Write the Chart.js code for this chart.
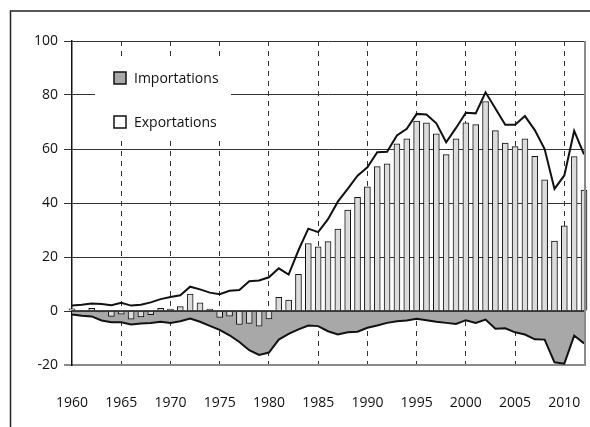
<!DOCTYPE html>
<html>
<head>
<meta charset="utf-8">
<script src="https://cdn.jsdelivr.net/npm/chart.js@4/dist/chart.umd.min.js"></script>
<style>
  html, body { margin: 0; padding: 0; background: #fff; }
  #wrap { width: 590px; height: 427px; position: relative; }
</style>
</head>
<body>
<div id="wrap"><canvas id="chart" width="590" height="427"></canvas></div>
<script>
// values
const years = [];
for (let y = 1960; y <= 2012; y++) years.push(y);

const exportations = [2.0, 2.3, 2.8, 2.6, 2.1, 3.0, 2.0, 2.3, 3.2, 4.4,
  5.2, 5.8, 9.0, 8.0, 6.8, 6.2, 7.5, 7.8, 11.0, 11.3,
  12.5, 15.8, 13.5, 22.5, 30.5, 29.2, 34.0, 40.5, 45.2, 50.1,
  53.2, 58.8, 59.0, 65.0, 67.5, 73.0, 72.8, 69.5, 62.5, 67.8,
  73.4, 73.2, 81.0, 75.0, 69.0, 69.0, 72.2, 67.0, 60.0, 45.2,
  50.2, 66.7, 58.0];

const importations = [-1.3, -1.8, -2.0, -3.5, -4.2, -4.2, -5.0, -4.6, -4.4, -4.0,
  -4.4, -3.8, -2.8, -4.0, -5.5, -7.0, -9.0, -11.5, -14.5, -16.3,
  -15.4, -10.6, -8.5, -6.8, -5.4, -5.6, -7.5, -8.7, -7.9, -7.7,
  -6.2, -5.4, -4.4, -3.8, -3.5, -2.9, -3.4, -4.0, -4.4, -4.8,
  -3.4, -4.4, -3.2, -6.6, -6.4, -7.9, -8.7, -10.5, -10.6, -19.0,
  -19.5, -9.1, -12.0];

const solde = [0.8, 0.2, 1.0, -0.3, -2.0, -1.2, -3.0, -2.2, -1.4, 1.0,
  0.7, 1.6, 6.3, 3.0, 0.7, -2.4, -1.9, -5.0, -4.6, -5.6,
  -2.9, 5.1, 4.0, 13.6, 25.0, 23.8, 25.7, 30.3, 37.4, 42.1,
  46.0, 53.5, 54.5, 61.9, 63.8, 70.3, 69.7, 65.6, 57.9, 63.8,
  69.7, 69.0, 77.6, 66.8, 62.2, 60.9, 63.8, 57.3, 48.6, 25.9,
  31.5, 57.2, 44.8];

const xTicks = [1960, 1965, 1970, 1975, 1980, 1985, 1990, 1995, 2000, 2005, 2010];
const yTicks = [-20, 0, 20, 40, 60, 80, 100];
const legendLabels = ['Importations', 'Exportations'];

const pts = arr => arr.map((v, i) => ({ x: years[i], y: v }));
const FONT = '"Open Sans", "Liberation Sans", sans-serif';

// legend, zero line, right border and outer frame
const decor = {
  id: 'decor',
  beforeDatasetsDraw(c) {
    const { ctx, chartArea: a } = c;
    ctx.save();
    // white box behind legend covers the grid
    ctx.fillStyle = '#fff';
    ctx.fillRect(a.left + 23, a.top + 17, 136, 78);
    ctx.restore();
  },
  afterDatasetsDraw(c) {
    const { ctx, chartArea: a, scales } = c;
    const y0 = scales.y.getPixelForValue(0);
    ctx.save();
    ctx.strokeStyle = '#111';
    ctx.lineWidth = 1.5;
    ctx.beginPath();
    ctx.moveTo(a.left, y0);
    ctx.lineTo(a.right, y0);
    ctx.stroke();

    ctx.strokeStyle = '#8a8a8a';
    ctx.lineWidth = 2;
    ctx.beginPath();
    ctx.moveTo(a.right, a.top);
    ctx.lineTo(a.right, a.bottom);
    ctx.stroke();

    // legend
    const colors = ['#a8a8a8', '#ffffff'];
    ctx.font = '14px ' + FONT;
    ctx.textBaseline = 'middle';
    legendLabels.forEach((t, i) => {
      const bx = a.left + 42, by = a.top + 31 + i * 44;
      ctx.fillStyle = colors[i];
      ctx.fillRect(bx, by, 12, 12);
      ctx.strokeStyle = '#111';
      ctx.lineWidth = 1.5;
      ctx.strokeRect(bx, by, 12, 12);
      ctx.fillStyle = '#111';
      ctx.fillText(t, bx + 20, by + 7);
    });

    // outer frame
    ctx.strokeStyle = '#222';
    ctx.lineWidth = 1.5;
    ctx.beginPath();
    ctx.moveTo(10.5, c.height + 5);
    ctx.lineTo(10.5, 11);
    ctx.lineTo(c.width + 5, 11);
    ctx.stroke();
    ctx.restore();
  }
};

new Chart(document.getElementById('chart'), {
  type: 'bar',
  data: {
    datasets: [
      {
        type: 'line',
        label: 'Exportations',
        data: pts(exportations),
        borderColor: '#111',
        borderWidth: 2,
        pointRadius: 0,
        tension: 0,
        fill: false,
        order: 1
      },
      {
        type: 'bar',
        label: 'Solde',
        data: pts(solde),
        backgroundColor: '#dcdcdc',
        borderColor: '#111',
        borderWidth: 1,
        barThickness: 6,
        order: 2,
        clip: false
      },
      {
        type: 'line',
        label: 'Importations',
        data: pts(importations),
        borderColor: '#111',
        borderWidth: 2,
        backgroundColor: '#a8a8a8',
        pointRadius: 0,
        tension: 0,
        fill: 'origin',
        order: 3
      }
    ]
  },
  options: {
    responsive: false,
    animation: false,
    layout: { padding: { top: 41, right: 5, bottom: 0, left: 0 } },
    plugins: { legend: { display: false }, tooltip: { enabled: false } },
    scales: {
      x: {
        type: 'linear',
        offset: false,
        min: 1960,
        max: 2012.1,
        afterBuildTicks: s => { s.ticks = xTicks.map(v => ({ value: v })); },
        afterFit: s => { s.height = 62; s.paddingLeft = 0; s.paddingRight = 0; },
        grid: {
          offset: false,
          color: ctx => ctx.tick && ctx.tick.value === 1960 ? 'rgba(0,0,0,0)' : '#333',
          lineWidth: 1,
          tickLength: 0,
          drawTicks: false
        },
        border: { display: true, color: '#8a8a8a', width: 2, dash: [5, 5] },
        ticks: {
          padding: 30,
          color: '#111',
          font: { family: FONT, size: 14 },
          callback: v => String(v),
          maxRotation: 0
        }
      },
      y: {
        min: -20,
        max: 100,
        afterBuildTicks: s => { s.ticks = yTicks.map(v => ({ value: v })); },
        afterFit: s => { s.width = 72; },
        grid: {
          color: ctx => ctx.tick && ctx.tick.value === -20 ? '#8a8a8a' : '#333',
          lineWidth: ctx => ctx.tick && ctx.tick.value === -20 ? 2 : 1,
          tickLength: 8
        },
        border: { color: '#111', width: 1.5 },
        ticks: {
          padding: 6,
          color: '#111',
          font: { family: FONT, size: 14 },
          callback: v => String(v)
        }
      }
    }
  },
  plugins: [decor]
});
</script>
</body>
</html>
